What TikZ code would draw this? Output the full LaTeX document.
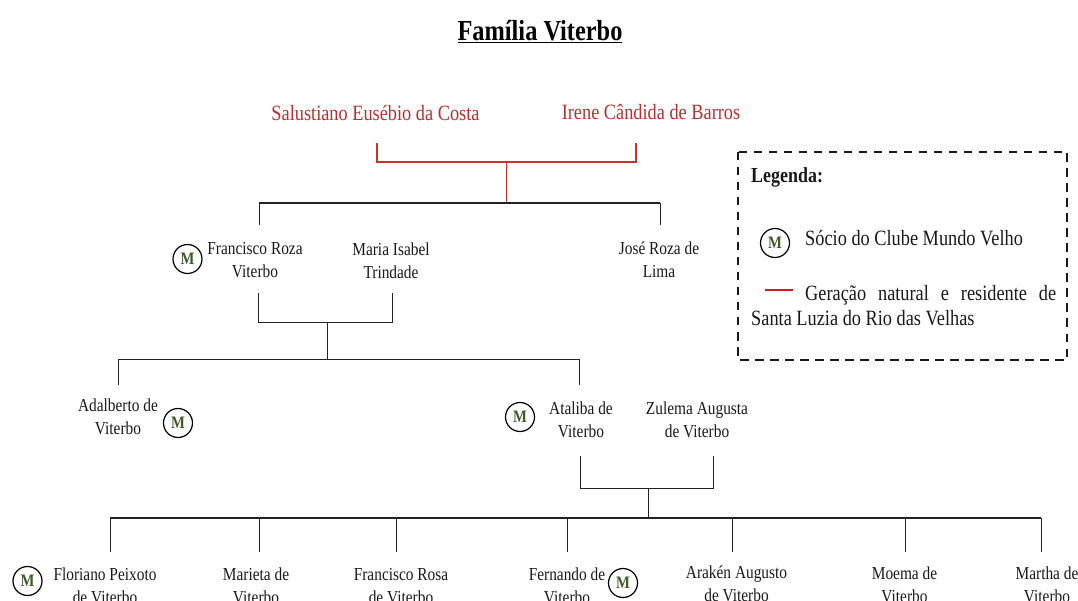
\documentclass[tikz,border=0pt]{standalone}
\usepackage{fontspec}
\setmainfont[FakeStretch=0.84]{Liberation Serif}
\definecolor{redtext}{HTML}{B5302E}
\definecolor{redline}{HTML}{C4352F}
\definecolor{redlegend}{HTML}{CF1A20}
\definecolor{inkline}{HTML}{222222}
\definecolor{mgreen}{HTML}{3E5A2A}
\tikzset{
  x=1pt,y=-1pt,
  person/.style={align=center,inner sep=0pt,font=\fontsize{18.3}{23}\selectfont,text=black!90},
  founder/.style={inner sep=0pt,font=\fontsize{21.8}{26}\selectfont,text=redtext},
  legendtext/.style={inner sep=0pt,anchor=base west,font=\fontsize{21.8}{26}\selectfont,text=black!90},
  badge/.style={circle,draw=black,line width=1.2pt,minimum size=29pt,inner sep=0pt,font=\fontsize{17.5}{18}\selectfont\bfseries,text=mgreen},
  thin link/.style={draw=inkline,line width=0.8pt},
  thick link/.style={draw=inkline,line width=2pt},
  red link/.style={draw=redline,line width=1.5pt},
  red thin/.style={draw=redline,line width=0.8pt},
}
\begin{document}
\begin{tikzpicture}
\useasboundingbox (0,0) rectangle (1078,601);
\node[inner sep=0pt,font=\fontsize{29}{33}\selectfont\bfseries] (title) at (540,32) {\underline{Família Viterbo}};

% founders
\node[founder] (salu) at (375.5,113) {Salustiano Eusébio da Costa};
\node[founder] (irene) at (651,112) {Irene Cândida de Barros};
\coordinate (s1) at (377,143); \coordinate (s2) at (377,162);
\coordinate (i1) at (636,143); \coordinate (i2) at (636,162);
\coordinate (rj) at (506,162); \coordinate (g1) at (506,203);
\draw[red link] (s1) -- (s2) -- (i2) -- (i1);
\draw[red thin] (rj) -- (g1);

% generation 1
\coordinate (g1l) at (259,203); \coordinate (g1r) at (660,203);
\coordinate (g1ld) at (259,225); \coordinate (g1rd) at (660,225);
\draw[thick link] (g1l) -- (g1r);
\draw[thin link] (g1l) -- (g1ld);
\draw[thin link] (g1r) -- (g1rd);
\node[person] (fran) at (255,260) {Francisco Roza\\Viterbo};
\node[person] (maria) at (391,261) {Maria Isabel\\Trindade};
\node[person] (jose) at (659,260) {José Roza de\\Lima};
\node[badge] (mfran) at (187.5,259) {M};

\coordinate (f1) at (258,293); \coordinate (f2) at (258,322);
\coordinate (m1) at (392,293); \coordinate (m2) at (392,322);
\coordinate (fj) at (327.5,322); \coordinate (g2) at (327.5,359);
\draw[thin link] (f1) -- (f2) -- (m2) -- (m1);
\draw[thin link] (fj) -- (g2);

% generation 2
\coordinate (g2l) at (118,359); \coordinate (g2r) at (579,359);
\coordinate (g2ld) at (118,385); \coordinate (g2rd) at (579,385);
\draw[thin link] (g2l) -- (g2r);
\draw[thin link] (g2l) -- (g2ld);
\draw[thin link] (g2r) -- (g2rd);
\node[person] (adal) at (118,417) {Adalberto de\\Viterbo};
\node[badge] (madal) at (178,423) {M};
\node[person] (atal) at (581,420) {Ataliba de\\Viterbo};
\node[badge] (matal) at (520,417) {M};
\node[person] (zul) at (697,420) {Zulema Augusta\\de Viterbo};

\coordinate (a1) at (580,456); \coordinate (a2) at (580,488);
\coordinate (z1) at (713,456); \coordinate (z2) at (713,488);
\coordinate (aj) at (648,488); \coordinate (g3) at (648,518);
\draw[thin link] (a1) -- (a2) -- (z2) -- (z1);
\draw[thin link] (aj) -- (g3);

% generation 3
\coordinate (b0) at (110,518); \coordinate (b6) at (1041,518);
\draw[thick link] (b0) -- (b6);
\foreach \n/\xx in {a/110,b/259,c/396,d/567,e/732,f/905,g/1041}{
  \coordinate (t\n) at (\xx,518);
  \coordinate (u\n) at (\xx,552);
  \draw[thin link] (t\n) -- (u\n);
}
\node[person] (flor) at (105,586) {Floriano Peixoto\\de Viterbo};
\node[badge] (mflor) at (27.5,581) {M};
\node[person] (mari) at (256,586) {Marieta de\\Viterbo};
\node[person] (frro) at (401,586) {Francisco Rosa\\de Viterbo};
\node[person] (fern) at (567,586) {Fernando de\\Viterbo};
\node[badge] (mfern) at (623,583) {M};
\node[person] (arak) at (736.5,584) {Arakén Augusto\\de Viterbo};
\node[person] (moem) at (904.5,585) {Moema de\\Viterbo};
\node[person] (mart) at (1047,585) {Martha de\\Viterbo};

% legend
\coordinate (lg1) at (738,152); \coordinate (lg2) at (1067,360);
\draw[black!90,line width=2.2pt,dash pattern=on 8.5pt off 6.5pt] (lg1) rectangle (lg2);
\node[legendtext,font=\fontsize{21.4}{26}\selectfont\bfseries] (lgt) at (751,183) {Legenda:};
\node[badge] (lgm) at (775,243) {M};
\node[legendtext] (lgs) at (805,246) {Sócio do Clube Mundo Velho};
\coordinate (lr1) at (765,290); \coordinate (lr2) at (793,290);
\draw[redlegend,line width=2.8pt] (lr1) -- (lr2);
\node[legendtext] (lgg) at (805,301) {\makebox[251pt][s]{Geração\hfill natural\hfill e\hfill residente\hfill de}};
\node[legendtext] (lgl) at (751,326) {Santa Luzia do Rio das Velhas};
\end{tikzpicture}
\end{document}
